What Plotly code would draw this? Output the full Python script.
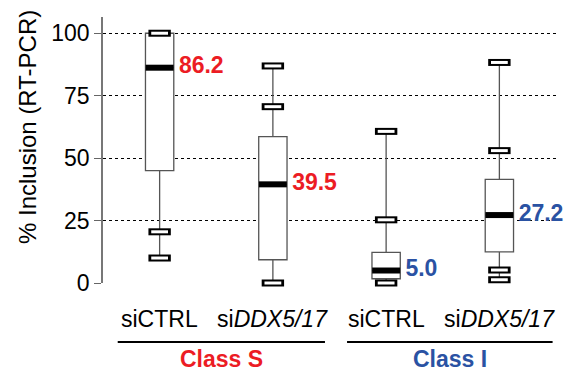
import plotly.graph_objects as go

# ---- data ----
categories = ["siCTRL", "si<i>DDX5/17</i>", "siCTRL", "si<i>DDX5/17</i>"]
groups = ["Class S", "Class I"]
q1 = [45.0, 9.3, 1.7, 12.5]
median = [86.2, 39.5, 5.0, 27.2]
q3 = [100.0, 58.6, 12.3, 41.5]
lower = [10.0, 0.0, 0.0, 1.3]
upper = [100.0, 86.9, 60.7, 88.3]
marks = [[100.0, 20.5, 10.0], [86.9, 70.6, 0.0], [60.7, 25.3, 0.0], [88.3, 53.0, 5.2, 1.3]]
median_labels = ["86.2", "39.5", "5.0", "27.2"]
yticks = [0, 25, 50, 75, 100]

RED = "#ec1c24"
BLUE = "#2a52a3"
label_colors = [RED, RED, BLUE, BLUE]
FONT = "Liberation Sans, Arial, sans-serif"

xs = list(range(len(categories)))

fig = go.Figure()

for i in xs:
    fig.add_trace(go.Box(
        x=[i], q1=[q1[i]], median=[median[i]], q3=[q3[i]],
        lowerfence=[lower[i]], upperfence=[upper[i]],
        width=0.25, whiskerwidth=0,
        line=dict(color="#555555", width=1.3),
        fillcolor="white", boxpoints=False, showlegend=False,
        hoverinfo="skip",
    ))

# mark points (hollow rounded bars)
mx, my = [], []
for i in xs:
    for v in marks[i]:
        mx.append(i)
        my.append(v)
fig.add_trace(go.Scatter(
    x=mx, y=my, mode="markers", cliponaxis=False, showlegend=False,
    marker=dict(symbol="line-ew", size=16, line=dict(color="black", width=7)),
    hoverinfo="skip",
))
fig.add_trace(go.Scatter(
    x=mx, y=my, mode="markers", cliponaxis=False, showlegend=False,
    marker=dict(symbol="line-ew", size=12, line=dict(color="white", width=3)),
    hoverinfo="skip",
))
# medians
fig.add_trace(go.Scatter(
    x=xs, y=median, mode="markers", cliponaxis=False, showlegend=False,
    marker=dict(symbol="line-ew", size=20, line=dict(color="black", width=6)),
    hoverinfo="skip",
))
# median value labels
fig.add_trace(go.Scatter(
    x=[i + 0.17 for i in xs], y=median, mode="text",
    text=["<b>%s</b>" % t for t in median_labels],
    textposition="middle right", cliponaxis=False, showlegend=False,
    textfont=dict(family=FONT, size=23, color=label_colors),
    hoverinfo="skip",
))

annotations = []
for i in xs:
    annotations.append(dict(
        x=i, y=0, xref="x", yref="paper", text=categories[i], showarrow=False,
        yanchor="top", yshift=-21, font=dict(family=FONT, size=23, color="black"),
    ))

group_spans = [(-0.37, 1.46), (1.655, 3.47)]
group_colors = [RED, BLUE]
shapes = []
for g, (a, b) in enumerate(group_spans):
    shapes.append(dict(type="line", xref="x", yref="paper", x0=a, x1=b,
                       y0=-0.222, y1=-0.222, line=dict(color="black", width=2)))
    annotations.append(dict(
        x=(a + b) / 2, y=-0.222, xref="x", yref="paper", text="<b>%s</b>" % groups[g],
        showarrow=False, yanchor="top", yshift=-2,
        font=dict(family=FONT, size=23, color=group_colors[g]),
    ))

annotations.append(dict(
    x=-0.168, y=0.586, xref="paper", yref="paper", text="% Inclusion (RT-PCR)",
    textangle=-90, showarrow=False, xanchor="center", yanchor="middle",
    font=dict(family=FONT, size=24, color="black"),
))

fig.update_layout(
    width=570, height=374,
    margin=dict(l=103, r=14, t=17, b=91),
    plot_bgcolor="white", paper_bgcolor="white",
    showlegend=False,
    annotations=annotations, shapes=shapes,
    xaxis=dict(range=[-0.5, 3.5], showgrid=False, zeroline=False,
               showticklabels=False, ticks="", showline=False, fixedrange=True),
    yaxis=dict(range=[0, 106.5], tickvals=yticks, ticks="outside", ticklen=7,
               tickcolor="#666666", tickwidth=1.3, automargin=False,
               showline=True, linecolor="#777777", linewidth=1.8,
               showgrid=True, gridcolor="black", gridwidth=0.8, griddash="dot",
               zeroline=False,
               tickfont=dict(family=FONT, size=23, color="black")),
)

fig.write_html("out.html", config={"displayModeBar": False},
               post_script="document.body.style.margin='0';document.body.style.padding='0';")
